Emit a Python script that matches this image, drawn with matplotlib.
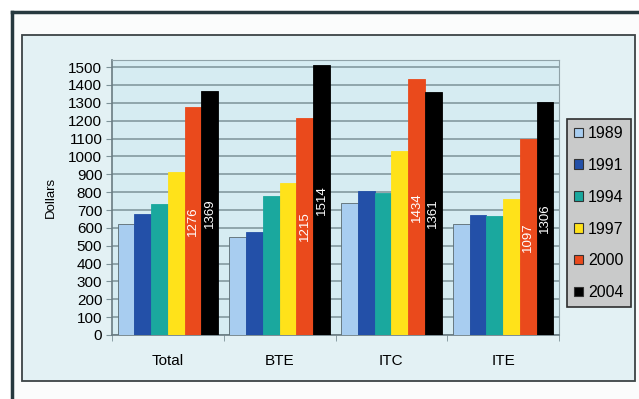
import numpy as np
import matplotlib.pyplot as plt
from matplotlib.patches import Rectangle, Patch
from matplotlib.lines import Line2D

plt.rcParams['font.family'] = ['Liberation Sans', 'DejaVu Sans']

# average cost per student by program, in dollars
categories = ['Total', 'BTE', 'ITC', 'ITE']
years = ['1989', '1991', '1994', '1997', '2000', '2004']
v1989 = [620, 550, 737, 621]
v1991 = [675, 575, 808, 672]
v1994 = [732, 780, 793, 666]
v1997 = [914, 853, 1032, 760]
v2000 = [1276, 1215, 1434, 1097]
v2004 = [1369, 1514, 1361, 1306]
series = [v1989, v1991, v1994, v1997, v2000, v2004]
colors = ['#a8cdf0', '#2350a8', '#1aa89e', '#ffe21a', '#ea4a1c', '#000000']
labelled = {'2000', '2004'}

W, H = 639, 399
fig = plt.figure(figsize=(W / 100, H / 100), dpi=100)
fig.patch.set_facecolor('white')

def fx(px):
    return px / W

def fy(py):
    return 1 - py / H

# outer frame, cut off at the right and bottom edges
fig.patches.append(Rectangle((fx(12), 0), 1 - fx(12), fy(12), transform=fig.transFigure,
                             facecolor='#fbfcfc', edgecolor='none', zorder=0))
fig.lines.append(Line2D([fx(12), fx(12)], [0, fy(12)], transform=fig.transFigure,
                        color='#27393f', lw=2.5))
fig.lines.append(Line2D([fx(12), 1], [fy(12), fy(12)], transform=fig.transFigure,
                        color='#27393f', lw=2.5))

# chart panel
fig.patches.append(Rectangle((fx(22), fy(381)), fx(635) - fx(22), fy(35) - fy(381),
                             transform=fig.transFigure, facecolor='#e3f1f4',
                             edgecolor='#3c4446', lw=1.3, zorder=1))

ax = fig.add_axes([fx(112), fy(335), fx(559) - fx(112), fy(60) - fy(335)])
ax.set_zorder(2)
ax.set_facecolor('#d6ecf2')

x = np.arange(len(categories))
bw = 0.9 / len(series)
for i, (vals, col, yr) in enumerate(zip(series, colors, years)):
    pos = x - 0.45 + bw * (i + 0.5)
    bars = ax.bar(pos, vals, width=bw, color=col, edgecolor='#5a6a70' if i == 0 else col,
                  linewidth=0.6, label=yr, zorder=3)
    if yr in labelled:
        for b, v in zip(bars, vals):
            ax.text(b.get_x() + b.get_width() / 2, v / 2, str(v), rotation=90,
                    ha='center', va='center', color='white', fontsize=9.5, zorder=4)

ax.set_xlim(-0.5, len(categories) - 0.5)
ax.set_ylim(0, 1540)
ax.set_yticks(np.arange(0, 1501, 100))
ax.yaxis.grid(True, color='#7d9298', lw=1.1, zorder=0)
ax.set_axisbelow(True)
ax.set_xticks(x)
ax.set_xticklabels(categories)
ax.set_xticks(np.arange(-0.5, len(categories)), minor=True)
ax.tick_params(axis='x', which='major', length=0, pad=14, labelsize=11)
ax.tick_params(axis='x', which='minor', length=4, color='#7d9298')
ax.tick_params(axis='y', length=4, color='#7d9298', labelsize=11, pad=3)
for s in ['top', 'right']:
    ax.spines[s].set_color('#8fa2a8')
for s in ['left', 'bottom']:
    ax.spines[s].set_color('#6a7c82')
    ax.spines[s].set_linewidth(1.2)
ax.set_ylabel('Dollars', fontsize=9.5, labelpad=8)

handles = [Patch(facecolor=c, edgecolor='#333333', lw=0.8) for c in colors]
leg = fig.legend(handles, years, loc='upper left', bbox_to_anchor=(fx(567), fy(119)),
                 fontsize=11.5, frameon=True, fancybox=False, handlelength=0.55,
                 handleheight=0.55, handletextpad=0.3, labelspacing=1.05,
                 borderpad=0.45, borderaxespad=0)
leg.set_zorder(3)
leg.get_frame().set_facecolor('#c9caca')
leg.get_frame().set_edgecolor('#2e2e2e')
leg.get_frame().set_linewidth(1.2)
leg.get_frame().set_alpha(1)

fig.savefig('out.png', dpi=100)
